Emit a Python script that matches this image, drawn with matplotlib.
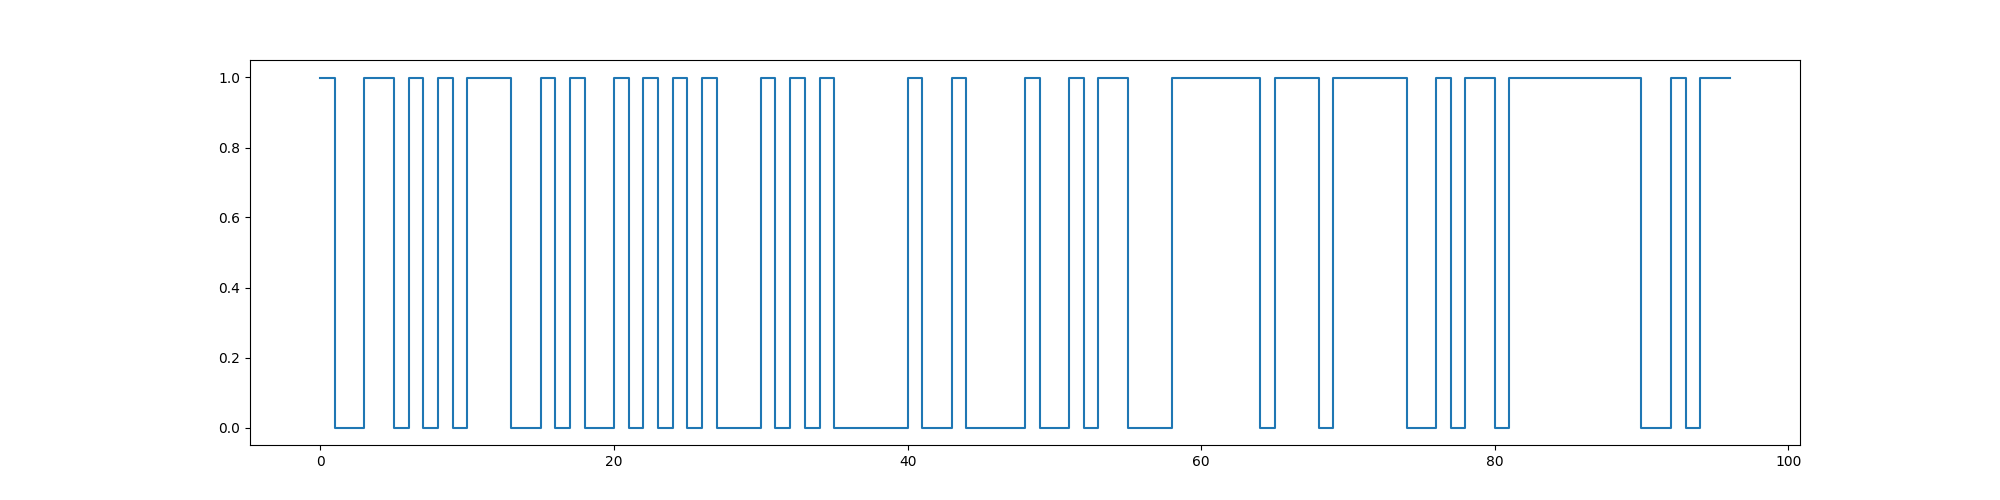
import numpy as np
import matplotlib.pyplot as plt

# binary state per step, value held on [i, i+1)
state = [1, 0, 0, 1, 1, 0, 1, 0, 1, 0,
         1, 1, 1, 0, 0, 1, 0, 1, 0, 0,
         1, 0, 1, 0, 1, 0, 1, 0, 0, 0,
         1, 0, 1, 0, 1, 0, 0, 0, 0, 0,
         1, 0, 0, 1, 0, 0, 0, 0, 1, 0,
         0, 1, 0, 1, 1, 0, 0, 0, 1, 1,
         1, 1, 1, 1, 0, 1, 1, 1, 0, 1,
         1, 1, 1, 1, 0, 0, 1, 0, 1, 1,
         0, 1, 1, 1, 1, 1, 1, 1, 1, 1,
         0, 0, 1, 0, 1, 1, 1]
steps = np.arange(len(state))

fig = plt.figure(figsize = (20, 5), dpi = 100)
plt.step(steps, state, where = 'post')
plt.savefig('out.png')
